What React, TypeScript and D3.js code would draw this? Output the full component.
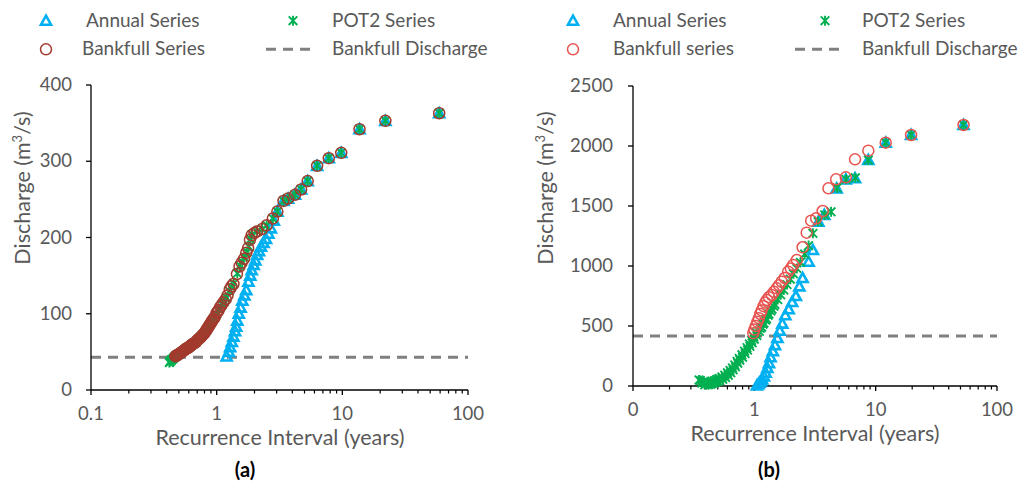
import React from "react";
import * as d3 from "d3";

// ---------- data: panel (a) ----------
const annualA: [number, number][] = [
  [1.2, 44], [1.25, 50], [1.28, 56], [1.32, 63], [1.36, 70], [1.4, 77], [1.43, 83], [1.46, 91],
  [1.5, 100], [1.55, 108], [1.6, 117], [1.66, 124], [1.72, 131], [1.79, 142], [1.85, 150], [1.9, 157],
  [1.97, 164], [2.03, 170], [2.1, 177], [2.17, 182], [2.25, 188], [2.36, 193], [2.47, 198], [2.58, 205],
  [2.7, 212], [2.85, 222], [3.04, 234], [3.4, 248], [3.7, 251], [4.2, 256], [4.7, 263], [5.3, 274],
  [6.3, 294], [7.8, 304], [9.8, 311], [13.7, 342], [22, 353], [59, 363],
];
const bankfullA: [number, number][] = [
  [0.47, 44], [0.475, 45], [0.48, 45], [0.485, 46], [0.49, 46], [0.5, 47], [0.51, 48], [0.52, 49],
  [0.53, 50], [0.54, 51], [0.55, 52], [0.56, 53], [0.57, 54], [0.58, 55], [0.59, 55], [0.6, 56],
  [0.61, 57], [0.62, 58], [0.63, 59], [0.64, 60], [0.655, 61], [0.67, 62], [0.685, 63], [0.7, 65],
  [0.71, 66], [0.72, 67], [0.735, 68], [0.75, 70], [0.765, 71], [0.78, 73], [0.795, 74], [0.81, 76],
  [0.825, 78], [0.84, 80], [0.855, 82], [0.87, 84], [0.885, 86], [0.9, 88], [0.915, 90], [0.93, 92],
  [0.95, 94], [0.97, 96], [1.0, 101], [1.02, 103], [1.04, 105], [1.07, 109], [1.09, 111], [1.13, 115],
  [1.18, 119], [1.22, 124], [1.27, 132], [1.31, 136], [1.36, 139], [1.45, 152], [1.52, 162], [1.58, 167],
  [1.65, 172], [1.72, 180], [1.78, 186], [1.84, 197], [1.9, 203], [2.0, 206], [2.1, 208], [2.3, 211],
  [2.5, 216], [2.8, 225], [3.04, 234], [3.4, 248], [3.7, 251], [4.2, 256], [4.7, 263], [5.3, 274],
  [6.3, 294], [7.8, 304], [9.8, 311], [13.7, 342], [22, 353], [59, 363],
];
const pot2A: [number, number][] = [
  [0.42, 36], [0.425, 37], [0.43, 38], [0.435, 39], [0.44, 40], [0.45, 41], [0.46, 43], [0.47, 44],
  [0.48, 45], [0.49, 46], [0.5, 47], [0.51, 48], [0.53, 50], [0.55, 52], [0.57, 54], [0.59, 55],
  [0.61, 57], [0.63, 59], [0.66, 61], [0.69, 64], [0.72, 67], [0.75, 70], [0.78, 73], [0.82, 77],
  [0.85, 81], [0.88, 85], [0.92, 90], [0.96, 95], [1.0, 100], [1.05, 106], [1.1, 112], [1.15, 116],
  [1.2, 121], [1.26, 130], [1.31, 135], [1.37, 140], [1.46, 153], [1.53, 163], [1.6, 168], [1.67, 174],
  [1.74, 181], [1.8, 188], [1.86, 198], [1.92, 204], [2.1, 208], [2.3, 211], [2.5, 216], [2.8, 225],
  [3.04, 234], [3.4, 248], [3.7, 251], [4.2, 256], [4.7, 263], [5.3, 274], [6.3, 294], [7.8, 304],
  [9.8, 311], [13.7, 342], [22, 353], [59, 363],
];
const bankfullDischargeA = 43;

// ---------- data: panel (b) ----------
const annualB: [number, number][] = [
  [1.05, 5], [1.08, 15], [1.1, 28], [1.13, 40], [1.16, 55], [1.2, 80], [1.24, 110], [1.28, 150],
  [1.32, 190], [1.36, 240], [1.42, 290], [1.48, 340], [1.55, 400], [1.62, 460], [1.7, 520], [1.8, 590],
  [1.92, 640], [2.05, 700], [2.2, 750], [2.35, 830], [2.5, 900], [2.8, 1036], [3.04, 1133], [3.37, 1369],
  [3.77, 1425], [4.77, 1647], [5.67, 1722], [6.76, 1731], [8.7, 1883], [12.1, 2028], [19.6, 2092], [53, 2175],
];
const bankfullB: [number, number][] = [
  [0.98, 440], [1.0, 470], [1.03, 500], [1.06, 535], [1.09, 565], [1.12, 600], [1.15, 630], [1.19, 665],
  [1.23, 695], [1.27, 717], [1.32, 740], [1.39, 758], [1.45, 785], [1.53, 814], [1.6, 840], [1.68, 869],
  [1.78, 900], [1.9, 953], [2.0, 980], [2.09, 1008], [2.24, 1050], [2.5, 1156], [2.7, 1278], [2.94, 1378],
  [3.23, 1397], [3.66, 1458], [4.08, 1647], [4.72, 1722], [5.67, 1739], [6.76, 1889], [8.7, 1961],
  [12.1, 2028], [19.6, 2092], [53, 2175],
];
const pot2B: [number, number][] = [
  [0.35, 50], [0.36, 45], [0.37, 25], [0.38, 30], [0.39, 10], [0.4, 20], [0.41, 35], [0.42, 12],
  [0.43, 28], [0.44, 15], [0.45, 40], [0.46, 22], [0.47, 45], [0.48, 30], [0.49, 55], [0.5, 38],
  [0.51, 62], [0.52, 45], [0.54, 75], [0.55, 55], [0.57, 90], [0.58, 70], [0.6, 110], [0.61, 90],
  [0.63, 130], [0.64, 110], [0.66, 150], [0.67, 135], [0.69, 175], [0.7, 160], [0.72, 205], [0.73, 190],
  [0.75, 230], [0.76, 215], [0.79, 260], [0.8, 240], [0.83, 290], [0.84, 270], [0.87, 320], [0.88, 300],
  [0.91, 350], [0.92, 330], [0.95, 380], [0.96, 360], [0.99, 410], [1.0, 390], [1.04, 445], [1.05, 420],
  [1.1, 455], [1.12, 480], [1.15, 490], [1.18, 515], [1.2, 525], [1.24, 550], [1.26, 560], [1.3, 590],
  [1.32, 600], [1.37, 625], [1.4, 640], [1.45, 665], [1.48, 680], [1.56, 720], [1.65, 760], [1.75, 800],
  [1.86, 845], [1.98, 890], [2.1, 935], [2.24, 980], [2.4, 1030], [2.6, 1100], [2.8, 1170], [3.04, 1272],
  [3.35, 1370], [3.8, 1425], [4.29, 1452], [4.8, 1650], [5.7, 1722], [6.8, 1735], [8.7, 1883],
  [12.1, 2028], [19.6, 2092], [53, 2175],
];
const bankfullDischargeB = 416;

const xTicks = [0.1, 1, 10, 100];
const xTickLabelsA = ["0.1", "1", "10", "100"];
const xTickLabelsB = ["0", "1", "10", "100"];
const yTicksA = [0, 100, 200, 300, 400];
const yTicksB = [0, 500, 1000, 1500, 2000, 2500];

const BLUE = "#00b0f0";
const GREEN = "#00b050";
const GREY_TEXT = "#595959";
const FONT = "Lato, 'Open Sans', sans-serif";

const Tri = ({ x, y }: { x: number; y: number }) => (
  <path
    d={`M${x},${y - 5} L${x + 5},${y + 4} L${x - 5},${y + 4} Z`}
    fill="none"
    stroke={BLUE}
    strokeWidth={2.6}
    strokeLinejoin="miter"
  />
);
const Star = ({ x, y }: { x: number; y: number }) => (
  <path
    d={`M${x},${y - 5} L${x},${y + 5} M${x - 4.3},${y - 4.3} L${x + 4.3},${y + 4.3} M${x + 4.3},${y - 4.3} L${x - 4.3},${y + 4.3}`}
    stroke={GREEN}
    strokeWidth={1.9}
    fill="none"
  />
);
const Circ = ({ x, y, c }: { x: number; y: number; c: string }) => (
  <circle cx={x} cy={y} r={5.5} fill="none" stroke={c} strokeWidth={1.5} />
);

type PanelProps = {
  x0: number; x1: number; y0: number; y1: number; yMax: number;
  yTicks: number[]; xLabels: string[];
  annual: [number, number][]; bankfull: [number, number][]; pot2: [number, number][];
  bankQ: number; circColor: string;
  yLabelRight: number; yTitleX: number; xTitleX: number; tagX: number; tag: string;
  leg: { triX: number; textX1: number; textX3: number; starX: number; textX2: number; dashX0: number; dashX1: number; bankLabel: string };
};

const Panel = (p: PanelProps) => {
  const x = d3.scaleLog().domain([0.1, 100]).range([p.x0, p.x1]);
  const y = d3.scaleLinear().domain([0, p.yMax]).range([p.y1, p.y0]);
  const minor: number[] = [];
  [0.1, 1, 10].forEach((d) => {
    for (let k = 2; k <= 9; k++) minor.push(d * k);
  });
  const r1 = 20.7, r2 = 49.3;
  return (
    <g fontFamily={FONT}>
      {/* legend */}
      <Tri x={p.leg.triX} y={r1} />
      <text x={p.leg.textX1} y={26.5} fontSize={19} fill={GREY_TEXT}>Annual Series</text>
      <Star x={p.leg.starX} y={r1} />
      <text x={p.leg.textX2} y={26.5} fontSize={19} fill={GREY_TEXT}>POT2 Series</text>
      <Circ x={p.leg.triX} y={r2} c={p.circColor} />
      <text x={p.leg.textX3} y={55} fontSize={19} fill={GREY_TEXT}>{p.leg.bankLabel}</text>
      <line x1={p.leg.dashX0} x2={p.leg.dashX1} y1={r2} y2={r2} stroke="#808080" strokeWidth={3} strokeDasharray="10,7" />
      <text x={p.leg.textX2} y={55} fontSize={19} fill={GREY_TEXT}>Bankfull Discharge</text>

      {/* bankfull discharge line */}
      <line x1={p.x0} x2={p.x1} y1={y(p.bankQ)} y2={y(p.bankQ)} stroke="#808080" strokeWidth={3} strokeDasharray="10,7" />

      {/* axes */}
      <line x1={p.x0} x2={p.x0} y1={p.y0} y2={p.y1} stroke="#000" strokeWidth={1.3} />
      <line x1={p.x0} x2={p.x1} y1={p.y1} y2={p.y1} stroke="#000" strokeWidth={1.3} />
      {p.yTicks.map((t) => (
        <g key={"y" + t}>
          <line x1={p.x0 - 5} x2={p.x0} y1={y(t)} y2={y(t)} stroke="#000" strokeWidth={1.3} />
          <text x={p.yLabelRight} y={y(t) + 6} textAnchor="end" fontSize={18.5} fill={GREY_TEXT}>{t}</text>
        </g>
      ))}
      {xTicks.map((t, i) => (
        <g key={"x" + t}>
          <line x1={x(t)} x2={x(t)} y1={p.y1} y2={p.y1 + 5} stroke="#000" strokeWidth={1.3} />
          <text x={x(t)} y={p.y1 + 30} textAnchor="middle" fontSize={18.5} fill={GREY_TEXT}>{p.xLabels[i]}</text>
        </g>
      ))}
      {minor.map((t) => (
        <line key={"m" + t} x1={x(t)} x2={x(t)} y1={p.y1} y2={p.y1 + 3.5} stroke="#000" strokeWidth={1.2} />
      ))}

      {/* titles */}
      <text
        transform={`translate(${p.yTitleX},188) rotate(-90)`}
        textAnchor="middle"
        fontSize={21.5}
        fill={GREY_TEXT}
        dy={7.5}
      >
        Discharge (m<tspan dy={-8} fontSize={13}>3</tspan><tspan dy={8}>/s)</tspan>
      </text>
      <text x={p.xTitleX} y={p.y1 + 55} textAnchor="middle" fontSize={21.5} fill={GREY_TEXT}>Recurrence Interval (years)</text>
      <text x={p.tagX} y={477} textAnchor="middle" fontSize={20} fontWeight="bold" fill="#000">{p.tag}</text>

      {/* data */}
      {p.annual.map((d, i) => <Tri key={"a" + i} x={x(d[0])} y={y(d[1])} />)}
      {p.pot2.map((d, i) => <Star key={"p" + i} x={x(d[0])} y={y(d[1])} />)}
      {p.bankfull.map((d, i) => <Circ key={"b" + i} x={x(d[0])} y={y(d[1])} c={p.circColor} />)}
    </g>
  );
};

export default function App() {
  return (
    <svg width={1019} height={484} style={{ position: "absolute", left: 0, top: 0, background: "#fff" }}>
      <rect width={1019} height={484} fill="#fff" />
      <Panel
        x0={91} x1={468} y0={85} y1={390} yMax={400}
        yTicks={yTicksA} xLabels={xTickLabelsA}
        annual={annualA} bankfull={bankfullA} pot2={pot2A}
        bankQ={bankfullDischargeA} circColor="#a33a2e"
        yLabelRight={72} yTitleX={22} xTitleX={280} tagX={245} tag="(a)"
        leg={{ triX: 46, textX1: 86, textX3: 82, starX: 293, textX2: 332, dashX0: 266, dashX1: 315, bankLabel: "Bankfull Series" }}
      />
      <Panel
        x0={633} x1={997} y0={86} y1={386} yMax={2500}
        yTicks={yTicksB} xLabels={xTickLabelsB}
        annual={annualB} bankfull={bankfullB} pot2={pot2B}
        bankQ={bankfullDischargeB} circColor="#e8534f"
        yLabelRight={613} yTitleX={545} xTitleX={815} tagX={769} tag="(b)"
        leg={{ triX: 573, textX1: 613, textX3: 613, starX: 825, textX2: 862, dashX0: 795, dashX1: 843, bankLabel: "Bankfull series" }}
      />
    </svg>
  );
}
